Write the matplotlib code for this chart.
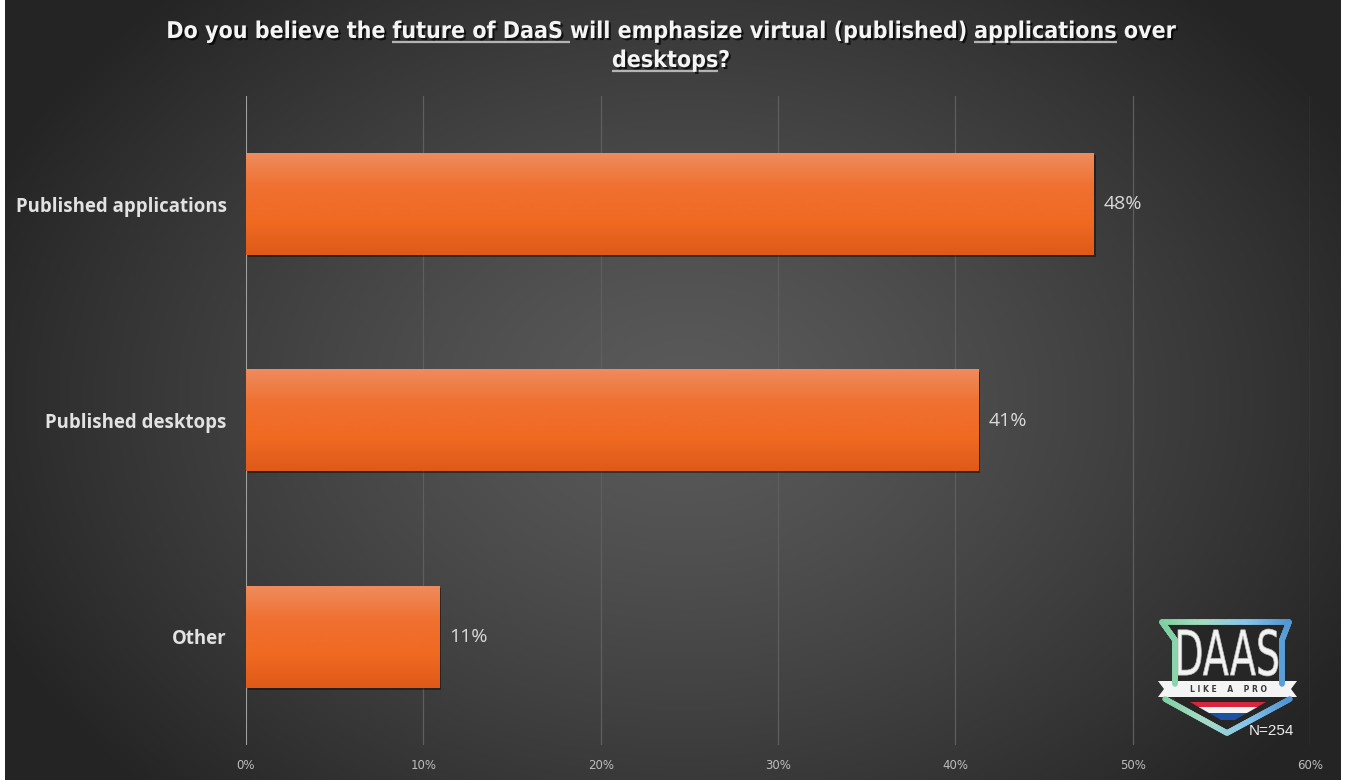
import numpy as np
import matplotlib.pyplot as plt
import matplotlib.patheffects as pe
from matplotlib import font_manager
from matplotlib.collections import LineCollection
from matplotlib.colors import LinearSegmentedColormap
from matplotlib.font_manager import FontProperties
from matplotlib.patches import PathPatch, Polygon
from matplotlib.textpath import TextPath
from matplotlib.transforms import Affine2D

categories = ['Published applications', 'Published desktops', 'Other']
shares = [47.8, 41.3, 10.9]
x_ticks = [0, 10, 20, 30, 40, 50, 60]
n_resp = 254

W, H = 1346, 780

installed = {f.name for f in font_manager.fontManager.ttflist}
narrow = 'Liberation Sans Narrow' if 'Liberation Sans Narrow' in installed else 'DejaVu Sans'

fig = plt.figure(figsize=(W / 100, H / 100), dpi=100, facecolor='white')

# dark radial backdrop
bg = fig.add_axes([5 / W, 0, 1336 / W, 1])
bg.axis('off')
yy, xx = np.mgrid[0:H, 0:1336]
d = np.sqrt(((xx - 680) / 760) ** 2 + ((yy - 400) / 560) ** 2)
t = np.clip(d, 0, 1) ** 1.3
c0 = np.array([0x5a, 0x5a, 0x5a]) / 255
c1 = np.array([0x24, 0x24, 0x24]) / 255
bg.imshow(c0 + (c1 - c0) * t[..., None], aspect='auto', extent=[0, 1, 0, 1])

# bar chart
ax = fig.add_axes([246 / W, 1 - 745 / H, (1310 - 246) / W, (745 - 96) / H])
ax.set_facecolor('none')
pos = np.arange(len(categories))
bars = ax.barh(pos, shares, height=0.47, color='#ee6a25', zorder=3)
for b in bars:
    b.set_path_effects([pe.SimplePatchShadow(offset=(1.5, -1.5), alpha=0.4, shadow_rgbFace='black'),
                        pe.Normal()])

bar_cmap = LinearSegmentedColormap.from_list('bar', ['#ee8b5c', '#f07030', '#f06a22', '#df5a18'])
grad = np.linspace(0, 1, 64)[:, None]
for b in bars:
    x0, y0, w, h = b.get_x(), b.get_y(), b.get_width(), b.get_height()
    ax.imshow(grad, cmap=bar_cmap, extent=[x0, x0 + w, y0 + h, y0], aspect='auto',
              zorder=4, interpolation='bicubic')

for y, v in zip(pos, shares):
    ax.text(v + 0.55, y, f'{v:.0f}%', va='center', ha='left', color='#dadada',
            fontsize=14, family='Open Sans')

ax.set_xlim(0, 60)
ax.set_ylim(2.5, -0.5)
ax.set_xticks(x_ticks)
ax.set_xticklabels([f'{t}%' for t in x_ticks])
ax.set_yticks(pos)
ax.set_yticklabels(categories)
ax.tick_params(axis='x', length=0, pad=10, labelsize=8.5, labelcolor='#bdbdbd')
ax.tick_params(axis='y', length=0, pad=14, labelsize=13.4, labelcolor='#e2e2e2')
for lbl in ax.get_yticklabels():
    lbl.set_fontweight('bold')
    lbl.set_family('Open Sans')
ax.grid(axis='x', color='#5e5e5e', lw=0.9)
ax.set_axisbelow(True)
for s in ax.spines.values():
    s.set_visible(False)
ax.axvline(0, color='#a8a8a8', lw=1.3, zorder=2)

# overlay in pixel coordinates for title and logo
ov = fig.add_axes([0, 0, 1, 1])
ov.set_xlim(0, W)
ov.set_ylim(H, 0)
ov.axis('off')
ov.patch.set_visible(False)

tprops = dict(family=narrow, weight='bold', size=16.6, color='#f4f4f4', va='baseline', ha='left')
if narrow == 'DejaVu Sans':
    tprops['stretch'] = 'condensed'
shadow = [pe.withSimplePatchShadow(offset=(1.5, -1.5), shadow_rgbFace='black', alpha=0.7)]
renderer = fig.canvas.get_renderer()


def text_width(s):
    tmp = ov.text(0, 0, s, **tprops)
    w = tmp.get_window_extent(renderer).width
    tmp.remove()
    return w


space = text_width('x x') - text_width('xx')


def draw_line(pieces, cx, base):
    adv = []
    for s, _ in pieces:
        lead = len(s) - len(s.lstrip())
        trail = len(s) - len(s.rstrip())
        adv.append((lead, trail, text_width(s.strip())))
    total = sum(w + space * (l + r) for l, r, w in adv)
    x = cx - total / 2
    for (s, under), (lead, trail, w) in zip(pieces, adv):
        x += space * lead
        ov.text(x, base, s.strip(), path_effects=shadow, **tprops)
        if under:
            ov.plot([x, x + w + space * trail], [base + 3.5] * 2, color='#b4b4b4', lw=1.6,
                    solid_capstyle='butt', path_effects=shadow)
        x += w + space * trail


draw_line([('Do you believe the ', False), ('future of DaaS ', True),
           ('will emphasize virtual (published) ', False), ('applications', True),
           (' over', False)], 671, 38)
draw_line([('desktops', True), ('?', False)], 671, 67)

# logo
ov.add_patch(Polygon([(1162, 622), (1289, 622), (1282, 640), (1282, 700), (1227, 733),
                      (1175, 700), (1175, 640)], closed=True, fc='#262626', ec='none'))
logo_cmap = LinearSegmentedColormap.from_list('logo', ['#7ccf9e', '#a6dcc4', '#86c4ec', '#4a8fd0'])


def outline(pts):
    pts = np.array(pts, float)
    dense = []
    for a, b in zip(pts[:-1], pts[1:]):
        s = np.linspace(0, 1, 60)[:, None]
        dense.append(a + (b - a) * s)
    dense = np.vstack(dense)
    segs = np.stack([dense[:-1], dense[1:]], axis=1)
    lc = LineCollection(segs, cmap=logo_cmap, linewidths=4, capstyle='round')
    lc.set_array((segs[:, :, 0].mean(axis=1) - 1160) / 135)
    lc.set_clim(0, 1)
    ov.add_collection(lc)


outline([(1175, 684), (1175, 640), (1162, 622), (1289, 622), (1282, 640), (1282, 684)])
outline([(1165, 699), (1227, 733), (1290, 699)])

tp = TextPath((0, 0), 'DAAS', prop=FontProperties(family=narrow, weight='normal', stretch='condensed'))
ext = tp.get_extents()
tr = (Affine2D().translate(-ext.x0, -ext.y0)
      .scale(100 / ext.width, -47 / ext.height).translate(1178, 676))
ov.add_patch(PathPatch(tr.transform_path(tp), fc='#f2f2f2', ec='#bdbdbd', lw=0.5))

ov.add_patch(Polygon([(1158, 681), (1297, 681), (1291, 689), (1297, 697), (1158, 697),
                      (1164, 689)], closed=True, fc='#f4f4f4', ec='none'))
ov.text(1228, 689.5, 'L I K E    A    P R O', ha='center', va='center', fontsize=5.5,
        weight='bold', color='#3a3a3a', family='DejaVu Sans')

tri = Polygon([(1190, 702), (1266, 702), (1228, 724)], closed=True, fc='none', ec='none')
ov.add_patch(tri)
for y0, y1, col in [(702, 707, '#d7263d'), (707, 713, '#f4f4f4'), (713, 720, '#1f4fa0')]:
    band = Polygon([(1185, y0), (1270, y0), (1270, y1), (1185, y1)], closed=True, fc=col, ec='none')
    ov.add_patch(band)
    band.set_clip_path(tri)

ov.text(1249, 731, f'N={n_resp}', ha='left', va='center', fontsize=11, color='#ececec',
        family='Liberation Sans')

fig.savefig('out.png', dpi=100, facecolor=fig.get_facecolor())
